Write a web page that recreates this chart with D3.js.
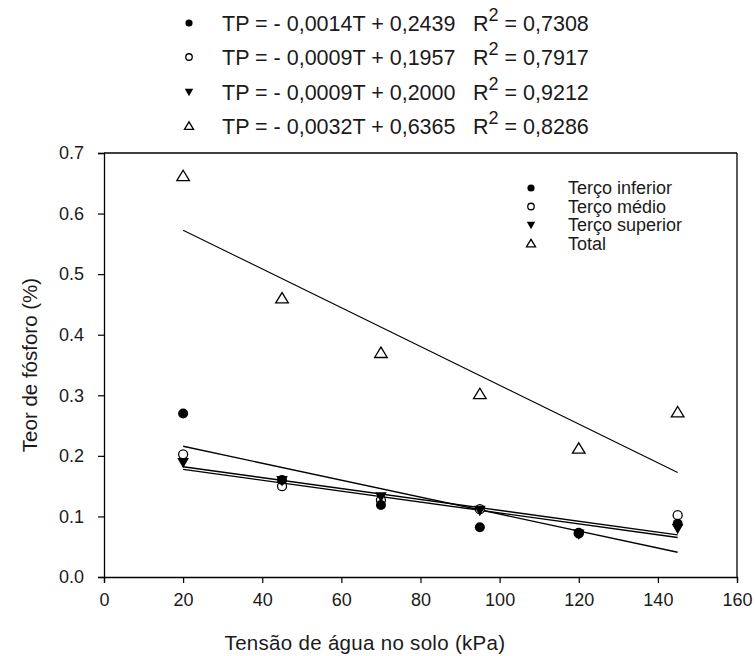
<!DOCTYPE html>
<html><head><meta charset="utf-8">
<script src="https://cdn.jsdelivr.net/npm/d3@7"></script>
<style>body{margin:0;background:#fff}svg{display:block}text{font-family:"Liberation Sans",Arial,sans-serif;fill:#1a1a1a}</style>
</head><body>
<svg id="c" width="756" height="656"></svg>
<script>
const tension = [20, 45, 70, 95, 120, 145];
const seriesNames = ["Terço inferior", "Terço médio", "Terço superior", "Total"];
const inferior = [0.270, 0.160, 0.119, 0.082, 0.073, 0.088];
const medio = [0.2025, 0.150, 0.127, 0.112, 0.072, 0.102];
const superior = [0.189, 0.159, 0.1325, 0.110, 0.071, 0.080];
const total = [0.662, 0.460, 0.370, 0.302, 0.212, 0.272];
const slopes = [-0.0014, -0.0009, -0.0009, -0.0032];
const intercepts = [0.2439, 0.1957, 0.2000, 0.6365];
const eqLabels = ["TP = - 0,0014T + 0,2439", "TP = - 0,0009T + 0,1957", "TP = - 0,0009T + 0,2000", "TP = - 0,0032T + 0,6365"];
const r2Labels = ["0,7308", "0,7917", "0,9212", "0,8286"];
const xTicks = [0, 20, 40, 60, 80, 100, 120, 140, 160];
const yTicks = [0, 0.1, 0.2, 0.3, 0.4, 0.5, 0.6, 0.7];

const svg = d3.select("#c");
const x = d3.scaleLinear().domain([0, 160]).range([104, 737]);
const y = d3.scaleLinear().domain([0, 0.7]).range([577, 153]);
const allSeries = [inferior, medio, superior, total];
const syms = ["fcircle", "ocircle", "tdown", "tup"];

function drawSym(g, type, cx, cy, s) {
  if (type === "fcircle") g.append("circle").attr("cx", cx).attr("cy", cy).attr("r", 5*s).attr("fill", "#000");
  else if (type === "ocircle") g.append("circle").attr("cx", cx).attr("cy", cy).attr("r", 4.5*s).attr("fill", "#fff").attr("stroke", "#000").attr("stroke-width", 1.3);
  else if (type === "tdown") g.append("path").attr("d", `M${cx-5.8*s},${cy-4.6*s}L${cx+5.8*s},${cy-4.6*s}L${cx},${cy+5.8*s}Z`).attr("fill", "#000");
  else g.append("path").attr("d", `M${cx-6.3*s},${cy+4.6*s}L${cx+6.3*s},${cy+4.6*s}L${cx},${cy-5.8*s}Z`).attr("fill", "#fff").attr("stroke", "#000").attr("stroke-width", 1.3);
}

// frame
svg.append("line").attr("x1", x(0)).attr("x2", x(160)).attr("y1", y(0.7)).attr("y2", y(0.7)).attr("stroke", "#000").attr("stroke-width", 1.3);
svg.append("line").attr("x1", x(160)).attr("x2", x(160)).attr("y1", y(0.7)).attr("y2", y(0)).attr("stroke", "#000").attr("stroke-width", 1.3);

// axes
const xAxis = svg.append("g").attr("transform", `translate(0,${y(0)})`)
  .call(d3.axisBottom(x).tickValues(xTicks).tickFormat(d3.format("d")).tickSizeOuter(0).tickSize(6).tickPadding(10));
const yAxis = svg.append("g").attr("transform", `translate(${x(0)},0)`)
  .call(d3.axisLeft(y).tickValues(yTicks).tickFormat(d3.format(".1f")).tickSizeOuter(0).tickSize(6).tickPadding(14));
[xAxis, yAxis].forEach(a => {
  a.selectAll("path.domain").attr("stroke", "#000").attr("stroke-width", 1.3);
  a.selectAll(".tick line").attr("stroke", "#000").attr("stroke-width", 1.2);
  a.selectAll("text").attr("font-size", 18).attr("font-family", "Liberation Sans, Arial, sans-serif").attr("fill", "#1a1a1a");
});

// regression lines
allSeries.forEach((s, i) => {
  svg.append("line")
    .attr("x1", x(tension[0])).attr("x2", x(tension[tension.length-1]))
    .attr("y1", y(slopes[i]*tension[0] + intercepts[i]))
    .attr("y2", y(slopes[i]*tension[tension.length-1] + intercepts[i]))
    .attr("stroke", "#000").attr("stroke-width", i === 3 ? 1.1 : 1.4);
});

// points (draw order: total, medio, inferior, superior)
[3, 1, 0, 2].forEach(i => {
  const g = svg.append("g");
  allSeries[i].forEach((v, j) => drawSym(g, syms[i], x(tension[j]), y(v), 1));
});

// in-plot legend
const lg = svg.append("g");
const legRows = [188, 206.5, 225, 243.5];
seriesNames.forEach((n, i) => {
  drawSym(lg, syms[i], 531, legRows[i], 0.72);
  lg.append("text").attr("x", 568).attr("y", legRows[i] + 6).attr("font-size", 18).text(n);
});

// equations at top
const eqRows = [23, 57, 92, 126];
eqLabels.forEach((e, i) => {
  drawSym(svg, syms[i], 189, eqRows[i], 0.72);
  svg.append("text").attr("x", 222).attr("y", eqRows[i] + 8).attr("font-size", 21.5).text(e);
  const t = svg.append("text").attr("x", 473).attr("y", eqRows[i] + 8).attr("font-size", 21.5);
  t.append("tspan").text("R");
  t.append("tspan").attr("dy", -10).attr("font-size", 18).text("2");
  t.append("tspan").attr("dy", 10).text(" = " + r2Labels[i]);
});

// axis titles
svg.append("text").attr("x", 365).attr("y", 650).attr("text-anchor", "middle").attr("font-size", 20.5).attr("letter-spacing", 0.3).text("Tensão de água no solo (kPa)");
svg.append("text").attr("transform", "translate(37,365) rotate(-90)").attr("text-anchor", "middle").attr("font-size", 20.5).text("Teor de fósforo (%)");
</script>
</body></html>
